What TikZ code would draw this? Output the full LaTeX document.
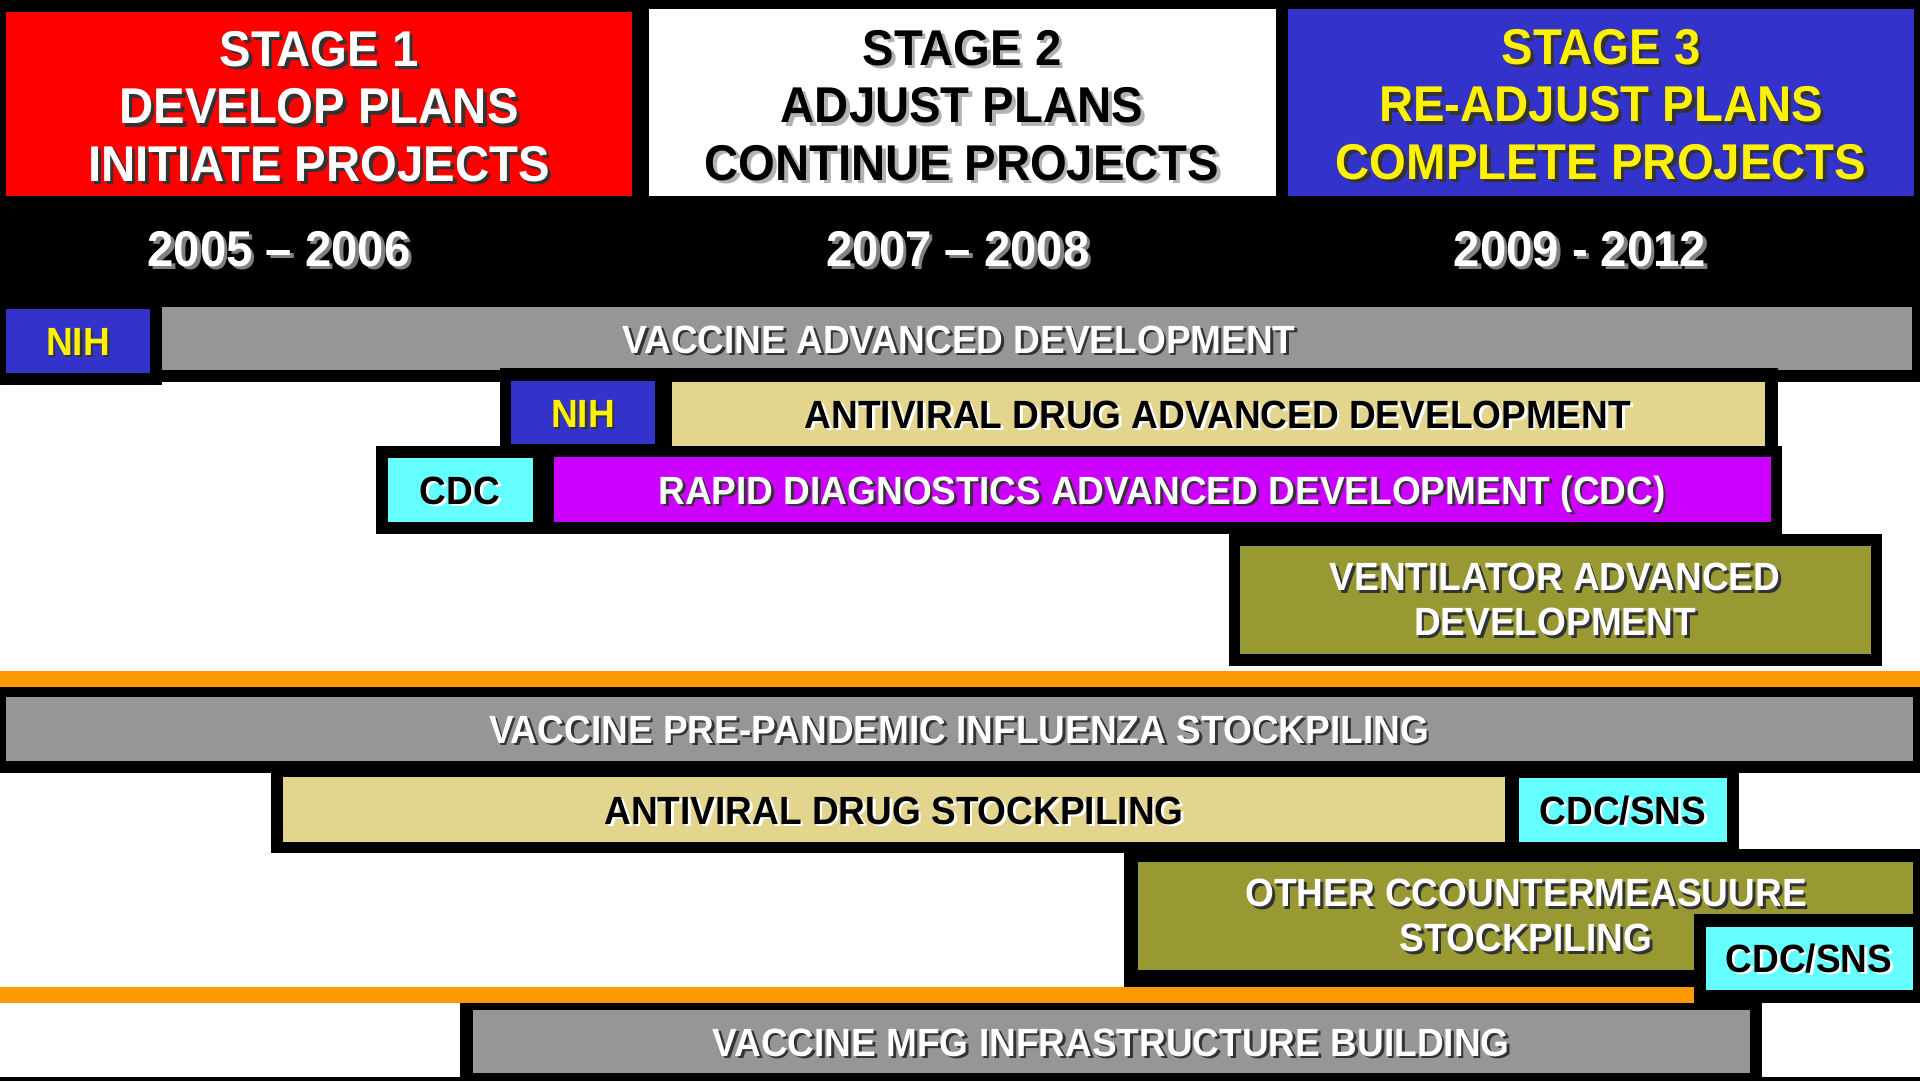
\documentclass[tikz,border=0pt]{standalone}
\usepackage{fontspec}
\setmainfont{Liberation Sans}[FakeStretch=0.94]

\definecolor{stagered}{HTML}{FF0000}
\definecolor{stageblue}{HTML}{3333CC}
\definecolor{bargray}{HTML}{969696}
\definecolor{bartan}{HTML}{E3D48E}
\definecolor{barmagenta}{HTML}{CC00FF}
\definecolor{barolive}{HTML}{999933}
\definecolor{barcyan}{HTML}{66FFFF}
\definecolor{ruleorange}{HTML}{FF9900}

% text with a small drop shadow: {text colour}{shadow colour}{text}
\newcommand{\shadowed}[3]{\rlap{\kern.07em\raisebox{-.07em}{\color{#2}#3}}{\color{#1}#3}}
\newcommand{\wtxt}[1]{\shadowed{white}{black!80}{#1}}
\newcommand{\btxt}[1]{\shadowed{black}{white}{#1}}
\newcommand{\ytxt}[1]{\shadowed{yellow}{black!80}{#1}}
\newcommand{\headfont}{\fontsize{14.3}{16.36}\selectfont\bfseries}
\newcommand{\barfont}{\fontsize{11.2}{12.8}\selectfont\bfseries}

\tikzset{
  headlabel/.style={font=\headfont, align=center, inner sep=0pt},
  yearlabel/.style={font=\headfont, anchor=base, inner sep=0pt},
  barlabel/.style={font=\barfont, anchor=base, inner sep=0pt},
  twolabel/.style={font=\barfont, align=center, inner sep=0pt}
}

\begin{document}
\begin{tikzpicture}[x=0.01cm, y=-0.01cm]

\useasboundingbox (0,0) rectangle (1920,1081);
\fill [white] (0,0) rectangle (1920,1081);

% header band
\fill [black] (0,0) rectangle (1920,382);
\fill [black] (0,382) rectangle (162,385);
\fill [stagered]  (6,12)   rectangle (632,196);
\fill [white]     (649,9)  rectangle (1276,196);
\fill [stageblue] (1288,9) rectangle (1914,196);

\node [headlabel] (stage1) at (319,108) {\wtxt{STAGE 1}\\\wtxt{DEVELOP PLANS}\\\wtxt{INITIATE PROJECTS}};
\node [headlabel] (stage2) at (962,107) {\shadowed{black}{black!30}{STAGE 2}\\\shadowed{black}{black!30}{ADJUST PLANS}\\\shadowed{black}{black!30}{CONTINUE PROJECTS}};
\node [headlabel] (stage3) at (1601,106) {\ytxt{STAGE 3}\\\ytxt{RE-ADJUST PLANS}\\\ytxt{COMPLETE PROJECTS}};

\node [yearlabel] (yr1) at (279,266)  {\shadowed{white}{black!50}{2005 – 2006}};
\node [yearlabel] (yr2) at (958,266)  {\shadowed{white}{black!50}{2007 – 2008}};
\node [yearlabel] (yr3) at (1580,266) {\shadowed{white}{black!50}{2009 - 2012}};

% advanced development
\fill [stageblue] (6,309)   rectangle (150,373);
\fill [bargray]   (162,307) rectangle (1912,370);
\node [barlabel] (nihA)    at (78,355)  {\ytxt{NIH}};
\node [barlabel] (vaccdev) at (959,353) {\wtxt{VACCINE ADVANCED DEVELOPMENT}};

\fill [black]     (500,368) rectangle (1778,447);
\fill [stageblue] (511,381) rectangle (655,444);
\fill [bartan]    (672,382) rectangle (1765,446);
\node [barlabel] (nihB)  at (583,427)  {\ytxt{NIH}};
\node [barlabel] (avdev) at (1218,428) {\btxt{ANTIVIRAL DRUG ADVANCED DEVELOPMENT}};

\fill [black]      (376,446) rectangle (1782,534);
\fill [barcyan]    (388,458) rectangle (533,522);
\fill [barmagenta] (554,457) rectangle (1771,522);
\node [barlabel] (cdc)  at (460,504)  {\btxt{CDC}};
\node [barlabel] (diag) at (1162,504) {\wtxt{RAPID DIAGNOSTICS ADVANCED DEVELOPMENT (CDC)}};

\fill [black]    (1229,534) rectangle (1882,666);
\fill [barolive] (1240,546) rectangle (1871,654);
\node [twolabel] (vent) at (1555,601) {\wtxt{VENTILATOR ADVANCED}\\\wtxt{DEVELOPMENT}};

\fill [ruleorange] (0,671) rectangle (1920,687);

% stockpiling
\fill [black]   (0,687) rectangle (1920,773);
\fill [bargray] (6,697) rectangle (1913,761);
\node [barlabel] (prepan) at (959,743) {\wtxt{VACCINE PRE-PANDEMIC INFLUENZA STOCKPILING}};

\fill [black]   (271,761)  rectangle (1739,853);
\fill [bartan]  (283,777)  rectangle (1505,842);
\fill [barcyan] (1519,778) rectangle (1727,842);
\node [barlabel] (avstock) at (894,824)  {\btxt{ANTIVIRAL DRUG STOCKPILING}};
\node [barlabel] (snsA)    at (1623,824) {\btxt{CDC/SNS}};

\fill [black]    (1124,849) rectangle (1920,987);
\fill [barolive] (1138,862) rectangle (1913,970);
\node [twolabel] (otherstock) at (1526,917) {\wtxt{OTHER CCOUNTERMEASUURE}\\\wtxt{STOCKPILING}};

\fill [black]   (1694,914) rectangle (1920,1003);
\fill [barcyan] (1706,927) rectangle (1913,990);
\node [barlabel] (snsB) at (1809,972) {\btxt{CDC/SNS}};

\fill [ruleorange] (0,987) rectangle (1694,1003);

% infrastructure
\fill [black]   (460,1003)  rectangle (1762,1081);
\fill [bargray] (473,1010)  rectangle (1750,1073);
\fill [black]   (0,1077)    rectangle (1920,1081);
\node [barlabel] (mfg) at (1111,1056) {\wtxt{VACCINE MFG INFRASTRUCTURE BUILDING}};

\end{tikzpicture}
\end{document}
